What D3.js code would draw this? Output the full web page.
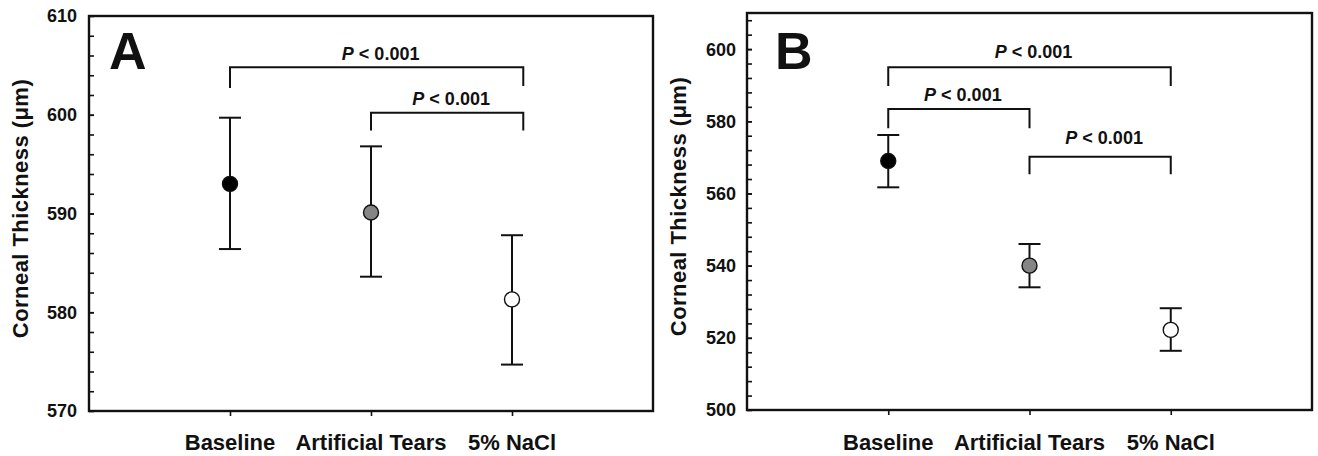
<!DOCTYPE html>
<html>
<head>
<meta charset="utf-8">
<script src="https://cdn.jsdelivr.net/npm/d3@7"></script>
<style>
  html, body { margin: 0; padding: 0; background: #fff; }
  svg { display: block; }
  text { font-family: Arial, "Liberation Sans", sans-serif; font-weight: bold; fill: #111; }
</style>
</head>
<body>
<svg id="chart" width="1318" height="456"></svg>
<script>
// ---- data ----
const categories = ["Baseline", "Artificial Tears", "5% NaCl"];
const markerFills = ["#000000", "#858585", "#ffffff"];

const meanA = [593.0, 590.1, 581.3];
const lowA  = [586.4, 583.6, 574.7];
const highA = [599.7, 596.8, 587.8];
const ticksA = [570, 580, 590, 600, 610];

const meanB = [569.0, 540.0, 522.2];
const lowB  = [561.7, 534.0, 516.4];
const highB = [576.2, 546.0, 528.2];
const ticksB = [500, 520, 540, 560, 580, 600];

// brackets: [fromIndex, toIndex, topValue, leftEndValue, rightEndValue, labelValue]
const bracketsA = [
  [0, 2.08, 604.8, 602.7, 602.9, 605.5],
  [1, 2.08, 600.2, 598.4, 598.4, 601.0]
];
const bracketsB = [
  [0, 2, 595.0, 589.8, 589.8, 597.5],
  [0, 1, 583.4, 578.1, 578.1, 585.5],
  [1, 2, 570.2, 565.3, 565.3, 573.7]
];
const pLabel = "< 0.001";

// ---- drawing ----
const svg = d3.select("#chart");

function panel(cfg) {
  const g = svg.append("g");
  const x = d3.scaleLinear().domain([-1, 3]).range([cfg.left, cfg.right]);
  const y = d3.scaleLinear().domain(cfg.domain).range([cfg.bottom, cfg.top]);

  // minor + major ticks (inside)
  const minor = d3.range(cfg.domain[0], cfg.domain[1] + 0.001, cfg.minorStep)
    .filter(v => v > cfg.domain[0] && v < cfg.domain[1]);
  const yAxis = d3.axisRight(y).tickValues(minor.concat(cfg.ticks)).tickSize(5).tickFormat("");
  g.append("g").attr("transform", `translate(${cfg.left},0)`).call(yAxis)
    .call(a => a.select(".domain").remove())
    .call(a => a.selectAll("line").attr("stroke", "#111").attr("stroke-width", 1.6));

  // y tick labels
  g.selectAll(".ylab").data(cfg.ticks).join("text")
    .attr("x", cfg.left - cfg.labelGap).attr("y", d => y(d))
    .attr("dy", "0.36em").attr("text-anchor", "end")
    .style("font-size", "18px").text(d => d);

  // x axis ticks (outside, down)
  const xAxis = d3.axisBottom(x).tickValues([0, 1, 2]).tickSize(5).tickFormat("");
  g.append("g").attr("transform", `translate(0,${cfg.bottom})`).call(xAxis)
    .call(a => a.select(".domain").remove())
    .call(a => a.selectAll("line").attr("stroke", "#111").attr("stroke-width", 1.6));

  // category labels
  g.selectAll(".xlab").data(categories).join("text")
    .attr("x", (d, i) => x(i)).attr("y", 450)
    .attr("text-anchor", "middle").style("font-size", "22px").text(d => d);

  // frame
  g.append("rect").attr("x", cfg.left).attr("y", cfg.top)
    .attr("width", cfg.right - cfg.left).attr("height", cfg.bottom - cfg.top)
    .attr("fill", "none").attr("stroke", "#111").attr("stroke-width", 2.4);

  // y title
  g.append("text")
    .attr("transform", `translate(${cfg.left - 61},${(cfg.top + cfg.bottom) / 2 - 5}) rotate(-90)`)
    .attr("text-anchor", "middle").style("font-size", "22px").style("letter-spacing", "0.45px")
    .text("Corneal Thickness (\u03bcm)");

  // panel letter
  g.append("text").attr("x", cfg.left + cfg.letterDx).attr("y", 69)
    .style("font-size", "52px").text(cfg.letter);

  // brackets
  cfg.brackets.forEach(b => {
    const [f, t, top, le, re, lv] = b;
    g.append("path")
      .attr("d", `M${x(f)},${y(le)}V${y(top)}H${x(t)}V${y(re)}`)
      .attr("fill", "none").attr("stroke", "#111").attr("stroke-width", 2);
    const tx = g.append("text").attr("x", (x(f) + x(t)) / 2 + 4).attr("y", y(lv))
      .attr("text-anchor", "middle").style("font-size", "18px");
    tx.append("tspan").style("font-style", "italic").text("P");
    tx.append("tspan").text(" " + pLabel);
  });

  // error bars
  const cap = 11;
  categories.forEach((c, i) => {
    const cx = x(i);
    g.append("line").attr("x1", cx).attr("x2", cx)
      .attr("y1", y(cfg.low[i])).attr("y2", y(cfg.high[i]))
      .attr("stroke", "#111").attr("stroke-width", 2);
    [cfg.low[i], cfg.high[i]].forEach(v => {
      g.append("line").attr("x1", cx - cap).attr("x2", cx + cap)
        .attr("y1", y(v)).attr("y2", y(v))
        .attr("stroke", "#111").attr("stroke-width", 2);
    });
  });

  // markers
  g.selectAll(".pt").data(cfg.mean).join("circle")
    .attr("cx", (d, i) => x(i)).attr("cy", d => y(d)).attr("r", 7.5)
    .attr("fill", (d, i) => markerFills[i]).attr("stroke", "#111").attr("stroke-width", 1.4);
}

panel({
  left: 89, right: 653, top: 16, bottom: 411,
  domain: [570, 610], ticks: ticksA, minorStep: 2, labelGap: 12,
  mean: meanA, low: lowA, high: highA, brackets: bracketsA,
  letter: "A", letterDx: 20
});
panel({
  left: 747, right: 1312, top: 13, bottom: 410,
  domain: [500, 610], ticks: ticksB, minorStep: 4, labelGap: 11,
  mean: meanB, low: lowB, high: highB, brackets: bracketsB,
  letter: "B", letterDx: 28
});
</script>
</body>
</html>
